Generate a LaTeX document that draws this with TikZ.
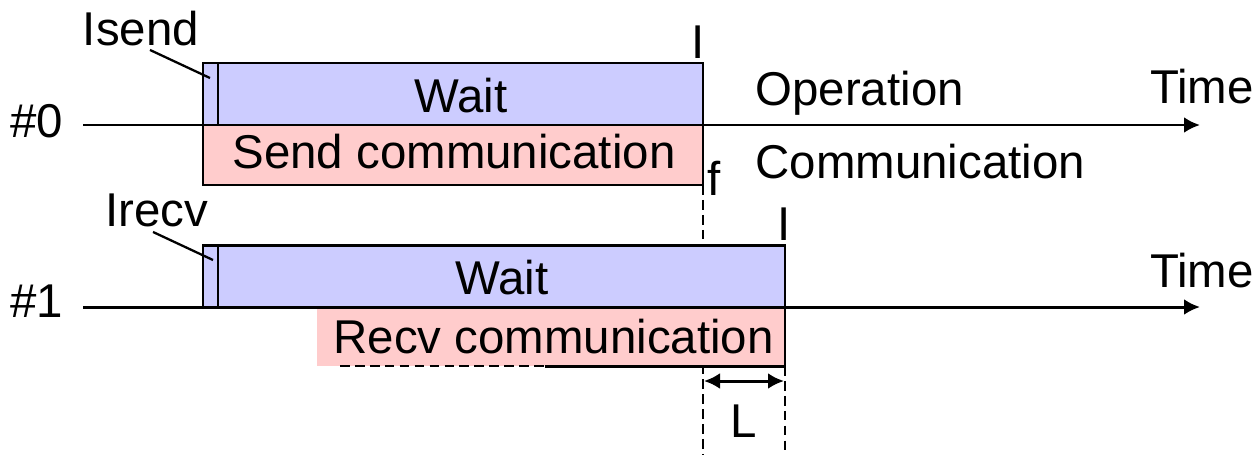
\documentclass[tikz,border=0pt]{standalone}
\usepackage{fontspec}
\setmainfont{Liberation Sans}
\usetikzlibrary{arrows.meta}
\definecolor{waitblue}{RGB}{204,204,255}
\definecolor{commpink}{RGB}{255,204,204}
\begin{document}
\begin{tikzpicture}[>={Latex[length=0.32cm,width=0.32cm]}, x=0.02cm, y=-0.02cm, line width=1.7pt,
    font=\fontsize{27}{32}\selectfont, every node/.style={inner sep=0pt},
    guide/.style={dashed, line width=1.3pt, dash pattern=on 5.5pt off 3pt}]
\useasboundingbox (0,0) rectangle (1259,454);
\draw[guide](703,185)--(703,454);
\draw[guide](785,366)--(785,454);
% rank 0
\draw[fill=waitblue](203,63) rectangle (218,125);
\draw[fill=waitblue](218,63) rectangle (703,125);
\draw[fill=commpink](203,125) rectangle (703,185);
\node[anchor=base] (wait0) at (461,112) {Wait};
\node[anchor=base] (send) at (454,168) {Send communication};
% rank 1
\draw[fill=waitblue](203,245) rectangle (218,307);
\draw[fill=waitblue](218,245) rectangle (785,307);
\fill[commpink](317,308) rectangle (785,366);
\draw[guide](340,366)--(545,366);
\draw(545,366)--(785,366)--(785,307);
\node[anchor=base] (wait1) at (502,294) {Wait};
\node[anchor=base west] (recv) at (332,353) {Recv communication};
% time axes
\node[anchor=base] (p0) at (37,137) {\#0};
\node[anchor=base] (p1) at (37,317) {\#1};
\coordinate (start0) at (83,125);
\coordinate (start1) at (83,307);
\coordinate (end0) at (1200,125);
\coordinate (end1) at (1200,307);
\draw[->](start0)--(end0);
\draw[->](start1)--(end1);
\node[anchor=base] (time0) at (1202,103) {Time};
\node[anchor=base] (time1) at (1202,287) {Time};
\node[anchor=base west] (oper) at (754,105) {Operation};
\node[anchor=base west] (comm) at (754,178) {Communication};
% calls
\node[anchor=base] (isend) at (141,45) {Isend};
\node[anchor=base] (irecv) at (157,226) {Irecv};
\coordinate (isendtip) at (210,78);
\coordinate (irecvtip) at (213,260);
\draw[line width=1.3pt](isend.south) ++(9,3) -- (isendtip);
\draw[line width=1.3pt](irecv.south) ++(-4,4) -- (irecvtip);
\node[anchor=base] (done0) at (698,58) {I};
\node[anchor=base] (done1) at (784,240) {I};
\node[anchor=base west] (flag) at (706,195) {f};
% latency
\coordinate (lat0) at (704,381);
\coordinate (lat1) at (784,381);
\draw[<->](lat0)--(lat1);
\node[anchor=base] (lat) at (744,437) {L};
\end{tikzpicture}
\end{document}
